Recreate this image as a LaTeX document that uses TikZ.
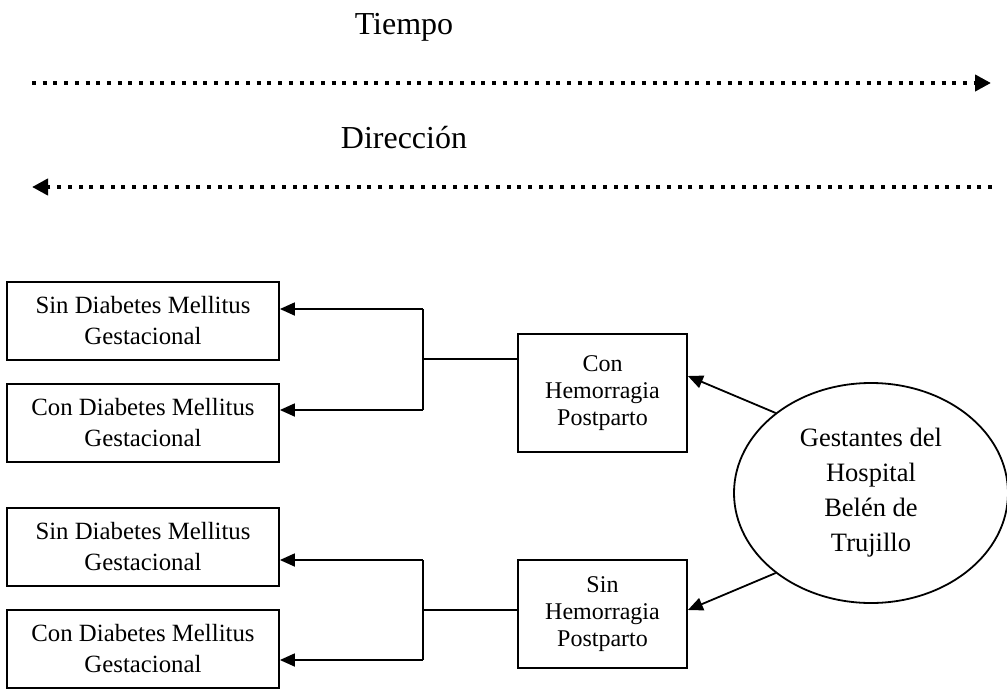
\documentclass[tikz,border=0pt]{standalone}
\usepackage{fontspec}
\setmainfont{Liberation Serif}
\usetikzlibrary{arrows.meta, shapes.geometric, positioning, calc}

\begin{document}
\begin{tikzpicture}[x=1pt,y=-1pt,
        caja/.style={draw, line width=1.8pt, minimum width=272pt, minimum height=78pt,
            inner sep=0pt, align=center, font=\fontsize{24.8}{31}\selectfont},
        grupo/.style={draw, line width=1.8pt, minimum width=169pt,
            inner sep=0pt, align=center, font=\fontsize{24}{27}\selectfont},
        etiqueta/.style={font=\fontsize{32}{36}\selectfont},
        linea/.style={line width=1.8pt},
        flecha/.style={line width=1.8pt, -{Triangle[length=15pt,width=13pt]}},
        tiempo/.style={line width=4pt, dash pattern=on 4pt off 6.7pt,
            -{Triangle[length=16pt,width=16pt]}}]
    \useasboundingbox (0,0) rectangle (1007,696);

    % eje de tiempo y direccion
    \node[etiqueta] (tie) at (404,27) {Tiempo};
    \node[etiqueta] (dir) at (404,138) {Dirección};
    \coordinate (t0) at (32,83);
    \coordinate (t1) at (991,83);
    \coordinate (d0) at (992,187);
    \coordinate (d1) at (32,187);
    \draw[tiempo] (t0) -- (t1);
    \draw[tiempo] (d0) -- (d1);

    % poblacion
    \node[ellipse, draw, line width=1.8pt, minimum width=274pt, minimum height=220pt,
        inner sep=0pt, align=center, font=\fontsize{26.5}{35}\selectfont]
        (gest) at (871,493) {Gestantes del\\Hospital\\Belén de\\Trujillo};

    \node[grupo, minimum height=118pt] (conhp) at (602.5,393) {Con\\Hemorragia\\Postparto};
    \node[grupo, minimum height=108pt] (sinhp) at (602.5,614) {Sin\\Hemorragia\\Postparto};

    \node[caja] (sd1) at (143,321) {Sin Diabetes Mellitus\\Gestacional};
    \node[caja] (cd1) at (143,423) {Con Diabetes Mellitus\\Gestacional};
    \node[caja] (sd2) at (143,547) {Sin Diabetes Mellitus\\Gestacional};
    \node[caja] (cd2) at (143,649) {Con Diabetes Mellitus\\Gestacional};

    \draw[flecha] (gest.140) -- ($(conhp.east)+(0,-17)$);
    \draw[flecha] (gest.220) -- ($(sinhp.east)+(0,-4)$);

    % ramas
    \coordinate (b1) at (423,359);
    \coordinate (b1a) at (423,309);
    \coordinate (b1b) at (423,410);
    \draw[linea] (conhp.west |- b1) -- (b1);
    \draw[linea] (b1a) -- (b1b);
    \draw[flecha] (b1a) -- (b1a -| sd1.east);
    \draw[flecha] (b1b) -- (b1b -| cd1.east);

    \coordinate (b2) at (423,610);
    \coordinate (b2a) at (423,560);
    \coordinate (b2b) at (423,660);
    \draw[linea] (sinhp.west |- b2) -- (b2);
    \draw[linea] (b2a) -- (b2b);
    \draw[flecha] (b2a) -- (b2a -| sd2.east);
    \draw[flecha] (b2b) -- (b2b -| cd2.east);
\end{tikzpicture}
\end{document}
